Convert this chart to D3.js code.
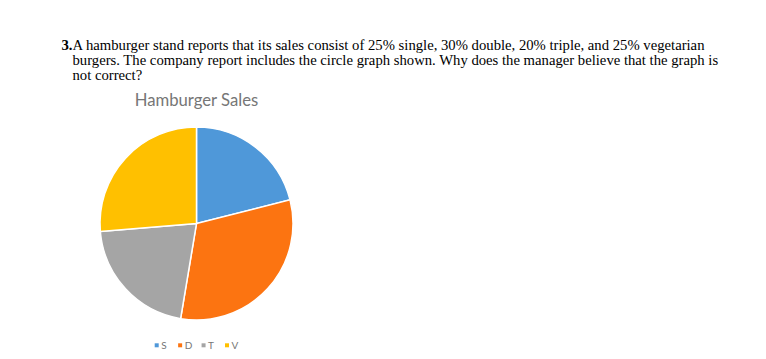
<!DOCTYPE html>
<html><head><meta charset="utf-8">
<script src="https://cdn.jsdelivr.net/npm/d3@7"></script>
<style>html,body{margin:0;padding:0;background:#fff;}svg{display:block;}</style>
</head><body>
<svg id="c" width="766" height="359"></svg>
<script>
const questionLines = [
  {bold: "3.", text: "A hamburger stand reports that its sales consist of 25% single, 30% double, 20% triple, and 25% vegetarian"},
  {bold: "", text: "burgers. The company report includes the circle graph shown. Why does the manager believe that the graph is"},
  {bold: "", text: "not correct?"}
];
const chartTitle = "Hamburger Sales";
const categories = ["S", "D", "T", "V"];
const values = [20, 30, 20, 25];
const colors = ["#4F98D9", "#FC7411", "#A5A5A5", "#FFC000"];

const svg = d3.select("#c");
const qx = [61.5, 72.5, 72.5];
const qy = [49.5, 64.5, 79.5];
const q = svg.append("g").attr("font-family", "'Liberation Serif', 'Times New Roman', serif")
  .attr("font-size", 14.7).attr("fill", "#000");
questionLines.forEach((l, i) => {
  const t = q.append("text").attr("x", qx[i]).attr("y", qy[i]);
  if (l.bold) t.append("tspan").attr("font-weight", "bold").text(l.bold);
  t.append("tspan").text(l.text);
});

const cx = 196.5, cy = 223.5, r = 96.5;
svg.append("text").attr("x", cx).attr("y", 106).attr("text-anchor", "middle")
  .attr("font-family", "Lato, 'Open Sans', sans-serif").attr("font-size", 16.7)
  .attr("fill", "#767676").text(chartTitle);

const data = categories.map((c, i) => ({cat: c, value: values[i], color: colors[i]}));
const pie = d3.pie().value(d => d.value).sort(null);
const arc = d3.arc().innerRadius(0).outerRadius(r);
svg.append("g").attr("transform", `translate(${cx},${cy})`)
  .selectAll("path").data(pie(data)).join("path")
  .attr("d", arc).attr("fill", d => d.data.color)
  .attr("stroke", "#fff").attr("stroke-width", 1.5);

const legX = d3.scalePoint().domain(categories).range([154.7, 225]);
const leg = svg.append("g").selectAll("g").data(data).join("g")
  .attr("transform", d => `translate(${legX(d.cat)},345.3)`);
leg.append("rect").attr("x", 0).attr("y", -2).attr("width", 4).attr("height", 4).attr("fill", d => d.color);
leg.append("text").attr("x", 6.5).attr("y", 3.7).attr("font-family", "Lato, sans-serif")
  .attr("font-size", 10).attr("fill", "#767676").text(d => d.cat);
</script>
</body></html>
